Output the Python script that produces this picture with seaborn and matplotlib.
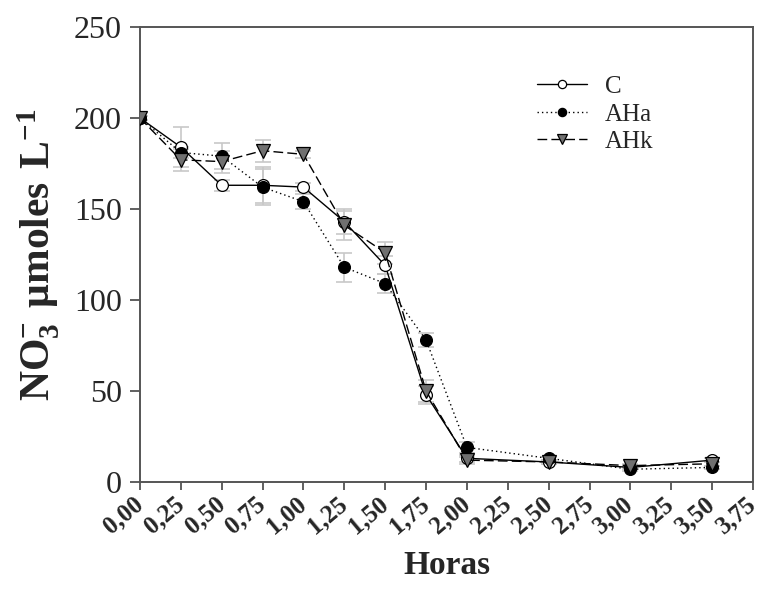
import numpy as np
import pandas as pd
import matplotlib
matplotlib.use("Agg")
import matplotlib.pyplot as plt
import seaborn as sns

# Sampling times (hours)
horas = [0.0, 0.25, 0.5, 0.75, 1.0, 1.25, 1.5, 1.75, 2.0, 2.5, 3.0, 3.5]

# Nitrate concentration (µmoles L-1) per treatment
c_vals   = [200, 184, 163, 163, 162, 143, 119, 48, 13, 11, 8, 12]
aha_vals = [200, 181, 179, 162, 154, 118, 109, 78, 19, 13, 7, 8]
ahk_vals = [200, 177, 176, 182, 180, 141, 126, 50, 12, 11, 9, 10]

# Standard errors
c_err   = [1, 11, 3, 10, 2, 7, 5, 5, 2, 1, 1, 1]
aha_err = [1, 3, 7, 10, 4, 8, 5, 4, 3, 1, 1, 1]
ahk_err = [1, 6, 6, 6, 2, 8, 6, 6, 2, 1, 1, 1]

series = ["C", "AHa", "AHk"]
xticks = [0.0, 0.25, 0.5, 0.75, 1.0, 1.25, 1.5, 1.75, 2.0, 2.25, 2.5, 2.75,
          3.0, 3.25, 3.5, 3.75]
xticklabels = [f"{t:.2f}".replace(".", ",") for t in xticks]
yticks = [0, 50, 100, 150, 200, 250]

df = pd.DataFrame({
    "Horas": horas * 3,
    "NO3": c_vals + aha_vals + ahk_vals,
    "err": c_err + aha_err + ahk_err,
    "Tratamiento": sum([[s] * len(horas) for s in series], []),
})

sns.set_style("white")
plt.rcParams["font.family"] = ["Liberation Serif", "DejaVu Serif"]
plt.rcParams["mathtext.fontset"] = "custom"
plt.rcParams["mathtext.rm"] = "Liberation Serif"
plt.rcParams["mathtext.bf"] = "Liberation Serif:bold"

fig = plt.figure(figsize=(7.6, 5.98), dpi=100)
ax = fig.add_axes([0.184, 0.194, 0.807, 0.761])

# error bars first, in light grey
for s in series:
    d = df[df["Tratamiento"] == s]
    ax.errorbar(d["Horas"], d["NO3"], yerr=d["err"], fmt="none",
                ecolor="#c8c8c8", elinewidth=1.2, capsize=6, capthick=1.2,
                zorder=1)

styles = {
    "C":   dict(ls="-",  marker="o", mfc="white", mec="black", ms=8.5),
    "AHa": dict(ls=(0, (1, 2.2)), marker="o", mfc="black", mec="black", ms=8.5),
    "AHk": dict(ls=(0, (7, 3)), marker="v", mfc="#707070", mec="black", ms=9.5),
}

for s in series:
    d = df[df["Tratamiento"] == s]
    st = styles[s]
    sns.lineplot(data=d, x="Horas", y="NO3", ax=ax, color="black",
                 linewidth=1.0, linestyle=st["ls"], marker=st["marker"],
                 markerfacecolor=st["mfc"], markeredgecolor=st["mec"],
                 markeredgewidth=0.9, markersize=st["ms"], label=s,
                 zorder=3, errorbar=None)

ax.set_xlim(0, 3.75)
ax.set_ylim(0, 250)
ax.set_xticks(xticks)
ax.set_xticklabels(xticklabels, rotation=40, ha="right", va="center",
                   rotation_mode="anchor", fontsize=18, fontweight="bold")
ax.set_yticks(yticks)
ax.set_yticklabels([str(v) for v in yticks], fontsize=23)

ax.tick_params(axis="x", direction="out", length=6, width=1.2,
               color="#444444", pad=8, bottom=True)
ax.tick_params(axis="y", direction="out", length=7, width=1.2,
               color="#444444", pad=6, left=True)

for sp in ax.spines.values():
    sp.set_color("#555555")
    sp.set_linewidth(1.4)

ax.set_xlabel("Horas", fontsize=24, fontweight="bold", va="center")
ax.xaxis.set_label_coords(0.5, -0.183)
ax.set_ylabel(r"$\mathbf{NO_3^{-}\ \mu moles\ L^{-1}}$", fontsize=30,
              va="center")
ax.yaxis.set_label_coords(-0.165, 0.50)

leg = ax.legend(loc="upper left", bbox_to_anchor=(0.632, 0.915), frameon=False,
                fontsize=18, handlelength=2.0, handletextpad=0.7,
                labelspacing=0.2, borderaxespad=0, markerscale=0.7)

fig.savefig("out.png", dpi=100)
